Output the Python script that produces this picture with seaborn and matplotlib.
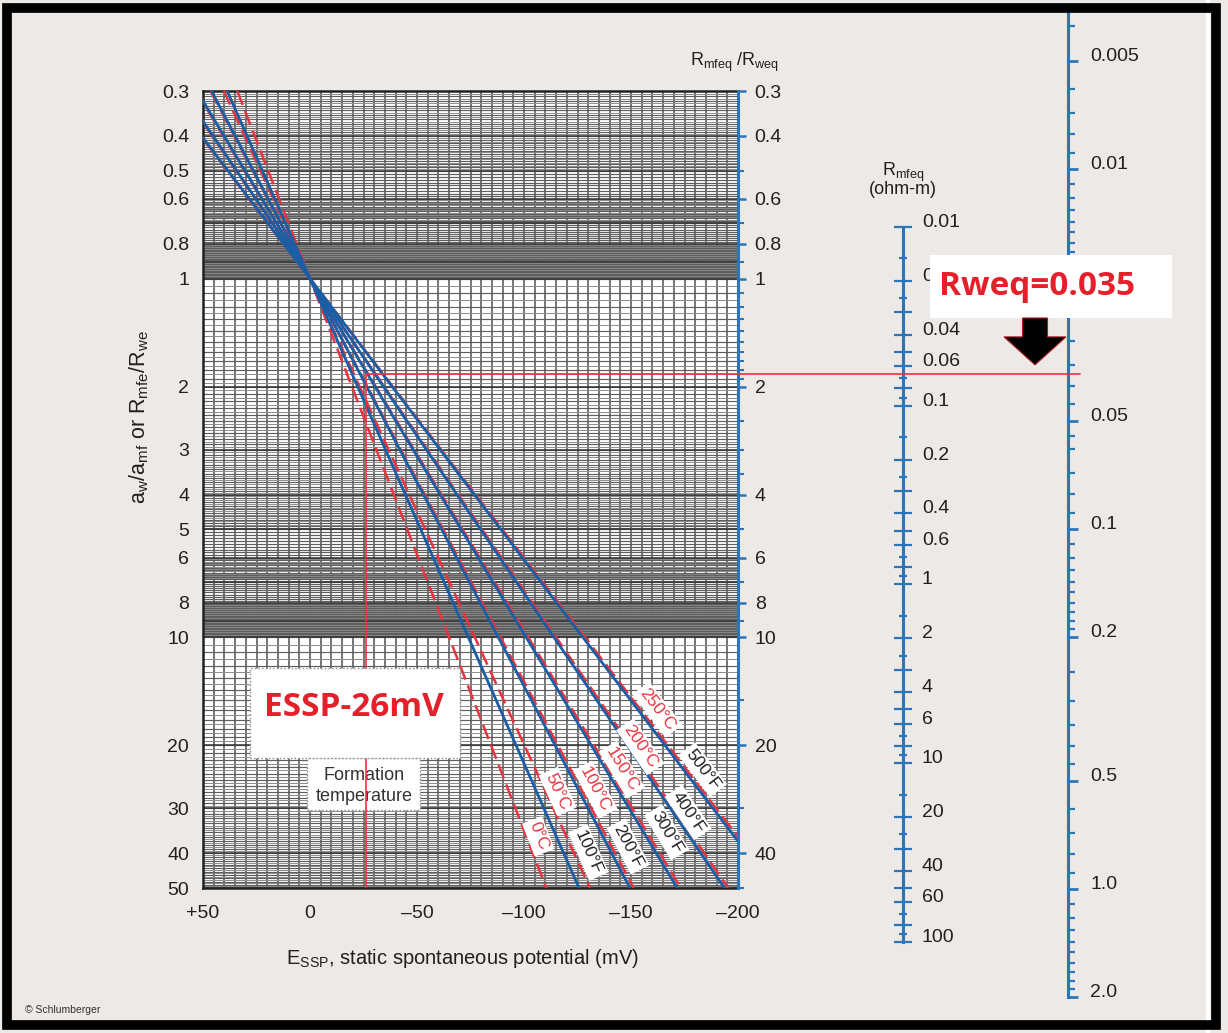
import numpy as np
import matplotlib
matplotlib.use("Agg")
import matplotlib.pyplot as plt
import seaborn as sns
from matplotlib.lines import Line2D
from matplotlib.patches import Rectangle, FancyArrow
from matplotlib.ticker import NullLocator, NullFormatter
from matplotlib.transforms import blended_transform_factory, offset_copy

# ---------------- chart values ----------------
essp_ticks = [50, 0, -50, -100, -150, -200]
essp_tick_labels = ["+50", "0", "\u201350", "\u2013100", "\u2013150", "\u2013200"]

ratio_ticks = [0.3, 0.4, 0.5, 0.6, 0.8, 1, 2, 3, 4, 5, 6, 8, 10, 20, 30, 40, 50]
ratio_right_ticks = [0.3, 0.4, 0.6, 0.8, 1, 2, 4, 6, 8, 10, 20, 40]
ratio_right_minor = [0.5, 0.7, 0.9, 1.1, 1.2, 1.3, 1.4, 1.5, 1.6, 1.7, 1.8, 1.9,
                     2.5, 3, 3.5, 5, 7, 9, 15, 30, 50]

# slope of each temperature line: mV of ESSP per decade of activity ratio
fahrenheit_labels = ["100\u00b0F", "200\u00b0F", "300\u00b0F", "400\u00b0F", "500\u00b0F"]
fahrenheit_mv_per_decade = [74, 88, 101, 114, 127.5]
celsius_labels = ["0\u00b0C", "50\u00b0C", "100\u00b0C", "150\u00b0C", "200\u00b0C", "250\u00b0C"]
celsius_mv_per_decade = [65, 77, 89, 102, 115, 128.5]

# worked example
essp_reading = -26
ratio_reading = 1.84
rweq_reading = 0.035

# Rmfeq nomogram scale
rmfeq_long = [0.01, 0.02, 0.03, 0.04, 0.05, 0.06, 0.08,
              0.1, 0.2, 0.3, 0.4, 0.5, 0.6, 0.8,
              1, 2, 3, 4, 5, 6, 8,
              10, 20, 30, 40, 50, 60, 80, 100]
rmfeq_short = [0.015, 0.025, 0.07, 0.09, 0.15, 0.25, 0.7, 0.9,
               1.5, 2.5, 7, 9, 15, 25, 70, 90]
rmfeq_labelled = {0.01: "0.01", 0.02: "0.02", 0.04: "0.04", 0.06: "0.06",
                  0.1: "0.1", 0.2: "0.2", 0.4: "0.4", 0.6: "0.6",
                  1: "1", 2: "2", 4: "4", 6: "6", 10: "10", 20: "20",
                  40: "40", 60: "60", 100: "100"}

# Rweq scale
rweq_major = [0.005, 0.01, 0.05, 0.1, 0.2, 0.5, 1.0, 2.0]
rweq_major_labels = ["0.005", "0.01", "0.05", "0.1", "0.2", "0.5", "1.0", "2.0"]
rweq_minor = [0.004, 0.006, 0.007, 0.008, 0.009,
              0.011, 0.012, 0.013, 0.014, 0.015, 0.016, 0.017, 0.018, 0.019,
              0.02, 0.025, 0.03, 0.035, 0.04, 0.045, 0.055, 0.06, 0.07, 0.08, 0.09,
              0.11, 0.12, 0.13, 0.14, 0.15, 0.16, 0.17, 0.18, 0.19,
              0.25, 0.3, 0.35, 0.4, 0.45, 0.6, 0.7, 0.8, 0.9,
              1.1, 1.2, 1.3, 1.4, 1.5, 1.6, 1.7, 1.8, 1.9]

# where the temperature tags sit along each line (ratio) and their sideways shift (px)
celsius_tag_ratio = [35.9, 26.9, 26.6, 23.4, 20.2, 15.9]
celsius_tag_shift = [12, 12, 14, 13, 9, 17]
fahrenheit_tag_ratio = [39.8, 38.3, 35.0, 30.8, 23.4]
fahrenheit_tag_shift = [25, 20, 23, 15, 19]

# ---------------- styling ----------------
W, H, DPI = 1228, 1033, 100
BG = "#ECE9E6"
RED = "#E8343F"
BLUE = "#1B5EA6"
SCALE_BLUE = "#2B76BA"
INK = "#231F20"

sns.set_theme(style="white")
plt.rcParams["font.family"] = ["Liberation Sans", "DejaVu Sans"]
plt.rcParams["axes.unicode_minus"] = False


def fx(px):
    return px / W


def fy(py):
    return 1 - py / H


fig = plt.figure(figsize=(W / DPI, H / DPI), dpi=DPI, facecolor=BG)

# ---------------- main SP chart ----------------
ax = fig.add_axes([fx(203), fy(888), (738 - 203) / W, (888 - 91) / H])
ax.set_facecolor("white")
ax.set_yscale("log")
ax.set_xlim(50, -200)
ax.set_ylim(50, 0.3)


# log-paper grid
def span(lo, hi, step):
    n = int(round((hi - lo) / step))
    return [round(lo + i * step, 6) for i in range(n + 1)]


grid_main, grid_unit, grid_fine = [], [], []
for d in (0.1, 1, 10):
    grid_unit += [round(k * d, 6) for k in range(1, 10)]
    grid_main += [round(v * d, 6) for v in span(1, 10, 0.1)]
    grid_fine += [round(v * d, 6) for v in
                  span(1.05, 4.95, 0.1) + span(6.05, 6.95, 0.1) + span(8.05, 9.95, 0.1)]
inside = lambda vals: sorted({v for v in vals if 0.3 <= v <= 50})

ax.vlines(span(-200, 50, 5), 0.3, 50, color="#4f4f4f", lw=1.1, zorder=1)
ax.hlines(inside(grid_fine), 50, -200, color="#8c8c8c", lw=0.7, zorder=1)
ax.hlines(inside(grid_main), 50, -200, color="#5e5e5e", lw=0.85, zorder=1)
ax.hlines(inside(grid_unit), 50, -200, color="#333333", lw=1.1, zorder=1)

ratio_span = [ratio_ticks[0], ratio_ticks[-1]]
for k in celsius_mv_per_decade:
    sns.lineplot(x=[-k * np.log10(r) for r in ratio_span], y=ratio_span, ax=ax,
                 color=RED, linewidth=1.8, linestyle=(0, (6, 2.5)),
                 sort=False, estimator=None, zorder=3)
for k in fahrenheit_mv_per_decade:
    sns.lineplot(x=[-k * np.log10(r) for r in ratio_span], y=ratio_span, ax=ax,
                 color=BLUE, linewidth=2.0, sort=False, estimator=None, zorder=4)

# worked example: ESSP reading and the resulting ratio
sns.lineplot(x=[essp_reading, essp_reading], y=[ratio_span[1], ratio_reading], ax=ax,
             color=RED, linewidth=1.2, sort=False, estimator=None, zorder=5)
sns.lineplot(x=[essp_reading, essp_ticks[-1]], y=[ratio_reading, ratio_reading], ax=ax,
             color=RED, linewidth=1.2, sort=False, estimator=None, zorder=5)

ax.set_xlim(50, -200)
ax.set_ylim(50, 0.3)

ax.set_xticks(essp_ticks)
ax.set_xticklabels(essp_tick_labels)
ax.xaxis.set_minor_locator(NullLocator())
ax.set_yticks(ratio_ticks)
ax.set_yticklabels([f"{v:g}" for v in ratio_ticks])
ax.yaxis.set_minor_locator(NullLocator())
ax.tick_params(axis="x", length=0, pad=12, labelsize=14, labelcolor=INK)
ax.tick_params(axis="y", length=0, pad=10, labelsize=14, labelcolor=INK)
for s in ("left", "top", "bottom"):
    ax.spines[s].set_color("#222222")
    ax.spines[s].set_linewidth(1.8)
ax.spines["right"].set_visible(False)

ax.set_xlabel("E$_\\mathregular{SSP}$, static spontaneous potential (mV)",
              fontsize=14.5, color=INK)
ax.xaxis.set_label_coords(0.485, -0.074)
ax.set_ylabel("a$_\\mathregular{w}$/a$_\\mathregular{mf}$ or "
              "R$_\\mathregular{mfe}$/R$_\\mathregular{we}$",
              fontsize=15.5, color=INK)
ax.yaxis.set_label_coords(-0.097, 0.591)


# temperature tags along the lines
def line_angle(k):
    p0 = ax.transData.transform((0.0, 1.0))
    p1 = ax.transData.transform((-k, 10.0))
    return np.degrees(np.arctan2(p1[1] - p0[1], p1[0] - p0[0]))


def tag(k, r, shift, text, color):
    tr = offset_copy(ax.transData, fig=fig, x=shift * 72 / DPI, y=0, units="points")
    ax.text(-k * np.log10(r), r, text, transform=tr, rotation=line_angle(k),
            rotation_mode="anchor", ha="center", va="center", fontsize=12.5,
            color=color, zorder=6,
            bbox=dict(boxstyle="square,pad=0.18", fc="white", ec="none"))


for k, r, s, t in zip(celsius_mv_per_decade, celsius_tag_ratio, celsius_tag_shift, celsius_labels):
    tag(k, r, s, t, RED)
for k, r, s, t in zip(fahrenheit_mv_per_decade, fahrenheit_tag_ratio, fahrenheit_tag_shift, fahrenheit_labels):
    tag(k, r, s, t, INK)

# formation temperature note (under the reading line) and ESSP callout (over it)
ax.add_patch(Rectangle((fx(307), fy(810)), fx(420) - fx(307), fy(758) - fy(810),
                       transform=fig.transFigure, fc="white", ec="#888888", lw=1,
                       ls=":", zorder=2.5))
ax.text(fx(364), fy(786), "Formation\ntemperature", transform=fig.transFigure,
        ha="center", va="center", fontsize=13, color="#333333", linespacing=1.25,
        zorder=2.6)
ax.add_patch(Rectangle((fx(250), fy(758)), fx(460) - fx(250), fy(668) - fy(758),
                       transform=fig.transFigure, fc="white", ec="#888888", lw=1,
                       ls=":", zorder=7))
ax.text(fx(354), fy(708), "ESSP-26mV", transform=fig.transFigure, ha="center",
        va="center", fontsize=24, fontweight="bold", family=["Open Sans", "DejaVu Sans"],
        color="#E4212B", zorder=8)

# right-hand Rmfeq/Rweq axis
ax2 = ax.twinx()
ax2.set_yscale("log")
ax2.set_ylim(50, 0.3)
ax2.set_yticks(ratio_right_ticks)
ax2.set_yticklabels([f"{v:g}" for v in ratio_right_ticks])
ax2.set_yticks(ratio_right_minor, minor=True)
ax2.yaxis.set_minor_formatter(NullFormatter())
ax2.tick_params(axis="y", which="major", direction="out", length=6, width=1.8,
                color=SCALE_BLUE, labelsize=14, labelcolor=INK, pad=6)
ax2.tick_params(axis="y", which="minor", direction="out", length=4, width=1.5,
                color=SCALE_BLUE)
for s in ("left", "top", "bottom"):
    ax2.spines[s].set_visible(False)
ax2.spines["right"].set_color(SCALE_BLUE)
ax2.spines["right"].set_linewidth(2.2)
ax2.grid(False)
fig.text(fx(735), fy(62), "R$_\\mathregular{mfeq}$ /R$_\\mathregular{weq}$",
         ha="center", va="center", fontsize=13, color=INK)

# ---------------- Rmfeq scale ----------------
ax_m = fig.add_axes([fx(903), fy(942), 1e-4, (942 - 227) / H])
ax_m.patch.set_visible(False)
ax_m.set_yscale("log")
ax_m.set_ylim(100, 0.01)
ax_m.set_xticks([])
for s in ("left", "top", "bottom"):
    ax_m.spines[s].set_visible(False)
ax_m.spines["right"].set_color(SCALE_BLUE)
ax_m.spines["right"].set_linewidth(2.2)
ax_m.yaxis.tick_right()
ax_m.set_yticks(rmfeq_long)
ax_m.set_yticklabels([rmfeq_labelled.get(v, "") for v in rmfeq_long])
ax_m.set_yticks(rmfeq_short, minor=True)
ax_m.yaxis.set_minor_formatter(NullFormatter())
ax_m.tick_params(axis="y", which="major", direction="inout", length=13, width=1.6,
                 color=SCALE_BLUE, labelsize=14, labelcolor=INK, pad=7)
ax_m.tick_params(axis="y", which="minor", direction="inout", length=6, width=1.6,
                 color=SCALE_BLUE)
for t in ax_m.yaxis.get_major_ticks():
    t.label2.set_verticalalignment("baseline")
fig.text(fx(903), fy(172), "R$_\\mathregular{mfeq}$", ha="center", va="center",
         fontsize=13, color=INK)
fig.text(fx(903), fy(190), "(ohm-m)", ha="center", va="center", fontsize=13, color=INK)

# ---------------- Rweq scale ----------------
ax_w = fig.add_axes([fx(1068), fy(997.4), 1e-4, (997.4 - 9.3) / H])
ax_w.patch.set_visible(False)
ax_w.set_yscale("log")
ax_w.set_ylim(2.0, 0.0036)
ax_w.set_xticks([])
for s in ("left", "top", "bottom"):
    ax_w.spines[s].set_visible(False)
ax_w.spines["right"].set_color(SCALE_BLUE)
ax_w.spines["right"].set_linewidth(2.2)
ax_w.yaxis.tick_right()
ax_w.set_yticks(rweq_major)
ax_w.set_yticklabels(rweq_major_labels)
ax_w.set_yticks(rweq_minor, minor=True)
ax_w.yaxis.set_minor_formatter(NullFormatter())
ax_w.tick_params(axis="y", which="major", direction="out", length=7, width=2,
                 color=SCALE_BLUE, labelsize=14, labelcolor=INK, pad=9)
ax_w.tick_params(axis="y", which="minor", direction="out", length=5, width=1.6,
                 color=SCALE_BLUE)
for t in ax_w.yaxis.get_major_ticks():
    t.label2.set_verticalalignment("baseline")

# reading line carried across to the Rweq scale
fig.add_artist(Line2D([fx(738), fx(1080)], [ratio_reading, ratio_reading],
                      transform=blended_transform_factory(fig.transFigure, ax.transData),
                      color=RED, lw=1.2, zorder=2))

# Rweq callout with arrow pointing at the reading
fig.add_artist(Rectangle((fx(930), fy(318)), fx(1172) - fx(930), fy(255) - fy(318),
                         transform=fig.transFigure, fc="white", ec="none", zorder=3))
fig.text(fx(1037), fy(287), "Rweq=0.035", ha="center", va="center", fontsize=24,
         fontweight="bold", family=["Open Sans", "DejaVu Sans"], color="#E4212B",
         zorder=4)
tip_y = ax_w.transData.transform((0.5, rweq_reading))[1] / DPI
top_y = (H - 318) / DPI
fig.add_artist(FancyArrow(1035 / DPI, top_y, 0, tip_y - top_y, width=0.25,
                          head_width=0.62, head_length=0.28, length_includes_head=True,
                          fc="black", ec="#B01822", lw=0.8,
                          transform=fig.dpi_scale_trans, zorder=4))

fig.text(fx(25), fy(1010), "\u00a9 Schlumberger", ha="left", va="center",
         fontsize=7.5, color="#333333")

# page frame
fig.add_artist(Rectangle((fx(1206), 0), 0.003, 1, transform=fig.transFigure,
                         fc="white", ec="none", zorder=9))
fig.add_artist(Rectangle((fx(7), fy(1025)), fx(1216) - fx(7), fy(8) - fy(1025),
                         transform=fig.transFigure, fill=False, ec="black", lw=7,
                         zorder=10))

fig.savefig("out.png", dpi=DPI, facecolor=BG)
